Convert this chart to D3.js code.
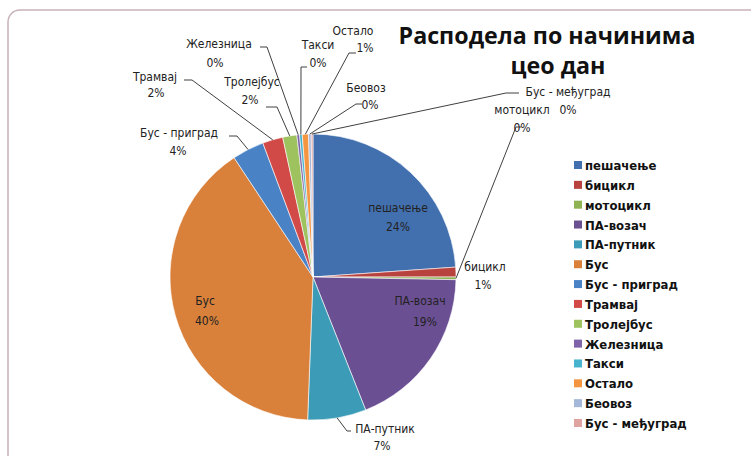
<!DOCTYPE html>
<html>
<head>
<meta charset="utf-8">
<script src="https://cdn.jsdelivr.net/npm/d3@7"></script>
<style>
  html, body { margin: 0; padding: 0; background: #fff; }
  svg { display: block; }
  .lbl { font-family: "Liberation Sans Narrow", "DejaVu Sans Condensed", "Arial Narrow", sans-serif; font-size: 12px; fill: #222; }
  .leg { font-family: "Liberation Sans Narrow", "DejaVu Sans Condensed", "Arial Narrow", sans-serif; font-size: 13px; font-weight: bold; fill: #111; }
  .ttl { font-family: "Open Sans", "Noto Sans", sans-serif; font-weight: bold; fill: #111; }
</style>
</head>
<body>
<svg id="chart" width="751" height="456"></svg>
<script>
// Modal split, whole day (share of trips, %)
const categories = ["пешачење", "бицикл", "мотоцикл", "ПА-возач", "ПА-путник", "Бус",
  "Бус - приград", "Трамвај", "Тролејбус", "Железница", "Такси", "Остало", "Беовоз", "Бус - међуград"];
const shares = [23.9, 1.1, 0.3, 18.7, 6.6, 40.1, 3.6, 2.3, 1.6, 0.3, 0.3, 0.7, 0.3, 0.2];
const colors = ["#4270AE", "#B8423E", "#8FB352", "#6B4F93", "#3C9BB6", "#D9803A",
  "#4A82C6", "#D24A48", "#9DC25E", "#7F63A9", "#47B3CF", "#F39541", "#A6B8DA", "#DFA3A2"];
const titleLines = ["Расподела по начинима", "цео дан"];

// Label placement: centre x and baseline y of the name line, offset of the value line,
// and the bend points of the leader line (from the slice edge outwards).
const labelLayout = {
  "пешачење":       { x: 398, y: 212, vx: 0,  vy: 19, inside: true },
  "бицикл":         { x: 485, y: 271, vx: -2, vy: 18 },
  "мотоцикл":       { x: 522, y: 114, vx: 0,  vy: 18, leader: [[516, 127], [521, 127]] },
  "ПА-возач":       { x: 420, y: 305, vx: 5,  vy: 21, inside: true },
  "ПА-путник":      { x: 385, y: 433, vx: -3, vy: 17, leader: [[347, 431], [351, 431]] },
  "Бус":            { x: 205, y: 305, vx: 2,  vy: 20, inside: true },
  "Бус - приград":  { x: 179, y: 137, vx: -1, vy: 18, leader: [[237, 136], [229, 136]] },
  "Трамвај":        { x: 155, y: 81,  vx: 1,  vy: 16, leader: [[192, 80], [184, 80]] },
  "Тролејбус":      { x: 252, y: 86,  vx: -2, vy: 18, leader: [[277, 107], [266, 107]] },
  "Железница":      { x: 219, y: 48,  vx: -4, vy: 19, leader: [[267, 47], [260, 47]] },
  "Такси":          { x: 318, y: 49,  vx: 0,  vy: 18, leader: [[301, 67], [307, 67]] },
  "Остало":         { x: 353, y: 35,  vx: 12, vy: 17, leader: [[349, 53], [356, 53]] },
  "Беовоз":         { x: 366, y: 92,  vx: 4,  vy: 17, leader: [[356, 104], [362, 104]] },
  "Бус - међуград": { x: 568, y: 96,  vx: 0,  vy: 18, leader: [[506, 93], [519, 93]] }
};

const svg = d3.select("#chart");
const W = 751, H = 456;

// Chart frame
svg.append("rect")
  .attr("x", 8).attr("y", 10)
  .attr("width", W + 4).attr("height", H + 10)
  .attr("rx", 12).attr("ry", 12)
  .attr("fill", "#fff")
  .attr("stroke", "#c7b2bb").attr("stroke-width", 1.5);

const cx = 313, cy = 277, r = 143;
const data = categories.map((c, i) => ({ name: c, value: shares[i], color: colors[i] }));
const total = d3.sum(shares);
const pct = d3.format(".0%");

const pie = d3.pie().sort(null).value(d => d.value);
const arcs = pie(data);
const arc = d3.arc().innerRadius(0).outerRadius(r);

const g = svg.append("g").attr("transform", `translate(${cx},${cy})`);
g.selectAll("path.slice")
  .data(arcs)
  .join("path")
  .attr("class", "slice")
  .attr("d", arc)
  .attr("fill", d => d.data.color)
  .attr("stroke", "#fff")
  .attr("stroke-width", 0.6);

// Leader lines
const edgePoint = d => {
  const a = (d.startAngle + d.endAngle) / 2;
  return [cx + Math.sin(a) * r, cy - Math.cos(a) * r];
};
const line = d3.line();
arcs.forEach(d => {
  const L = labelLayout[d.data.name];
  if (!L.leader) return;
  const pts = [edgePoint(d)].concat(L.leader);
  svg.append("path")
    .attr("d", line(pts))
    .attr("fill", "none")
    .attr("stroke", "#2a2a2a")
    .attr("stroke-width", 0.9);
});

// Data labels
arcs.forEach(d => {
  const L = labelLayout[d.data.name];
  const t = svg.append("g").attr("class", "lbl");
  t.append("text")
    .attr("class", "lbl")
    .attr("x", L.x).attr("y", L.y)
    .attr("text-anchor", "middle")
    .text(d.data.name);
  t.append("text")
    .attr("class", "lbl")
    .attr("x", L.x + L.vx).attr("y", L.y + L.vy)
    .attr("text-anchor", "middle")
    .text(pct(d.data.value / total));
});

// Title
const ttl = svg.append("g");
const t1 = ttl.append("text").attr("class", "ttl")
  .attr("x", 547).attr("y", 44).attr("text-anchor", "middle")
  .style("font-size", "23px").text(titleLines[0]);
const w1 = t1.node().getComputedTextLength();
const fs = 23 * 297 / w1;
t1.style("font-size", fs + "px");
ttl.append("text").attr("class", "ttl")
  .attr("x", 558).attr("y", 74).attr("text-anchor", "middle")
  .style("font-size", fs + "px").text(titleLines[1]);

// Legend
const legY = d3.scalePoint().domain(categories).range([165, 423]);
const leg = svg.append("g");
const items = leg.selectAll("g").data(data).join("g")
  .attr("transform", d => `translate(574,${legY(d.name)})`);
items.append("rect")
  .attr("x", 0).attr("y", -4).attr("width", 8).attr("height", 8)
  .attr("fill", d => d.color);
items.append("text")
  .attr("class", "leg")
  .attr("x", 11).attr("y", 5)
  .text(d => d.name);
</script>
</body>
</html>
